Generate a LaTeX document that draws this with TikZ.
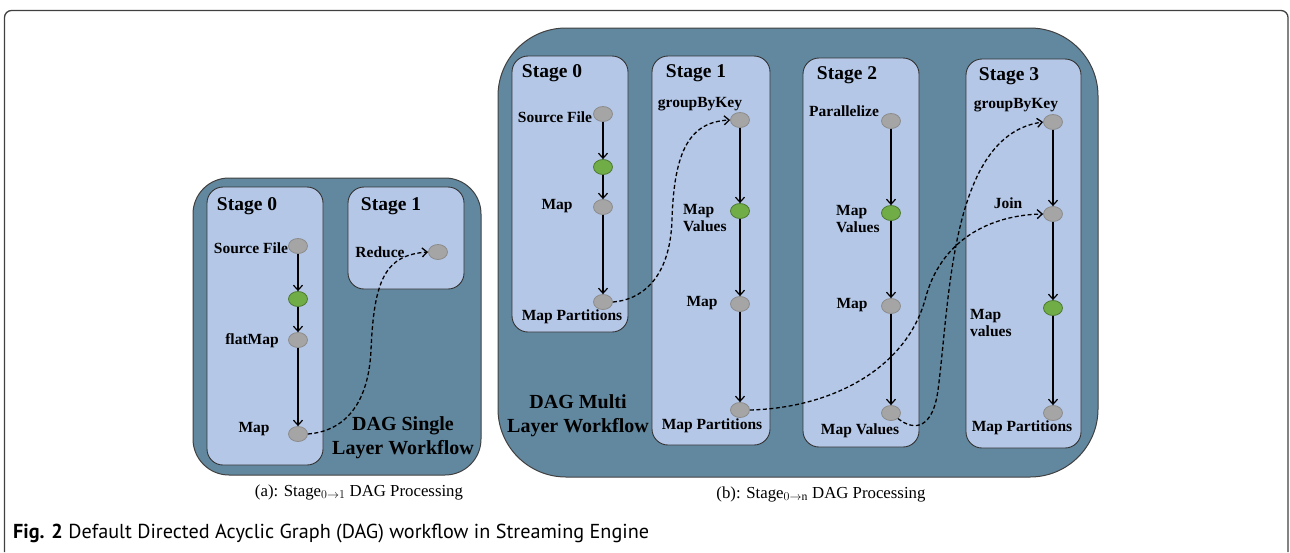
\documentclass[tikz,border=0pt]{standalone}
\usepackage{fontspec}
\setmainfont{Liberation Serif}
\newfontfamily\capfont{PT Sans}
\usetikzlibrary{shapes.geometric,arrows.meta}

\definecolor{dagbg}{RGB}{98,136,160}
\definecolor{stagebg}{RGB}{180,199,231}
\definecolor{opgray}{RGB}{165,165,165}
\definecolor{opgreen}{RGB}{112,173,71}

\begin{document}
\begin{tikzpicture}[x=1pt,y=-1pt,
  dagbox/.style={draw=black!75, line width=1pt, fill=dagbg},
  stagebox/.style={draw=black!80, line width=0.9pt, fill=stagebg, rounded corners=16pt},
  op/.style={ellipse, draw=black!45, line width=0.8pt, fill=opgray, minimum width=19pt, minimum height=15pt, inner sep=0pt},
  opg/.style={op, fill=opgreen, draw=opgreen!70!black},
  lbl/.style={font=\fontsize{15.5}{17}\selectfont\bfseries, inner sep=0pt},
  lbl2/.style={lbl, align=left, anchor=west},
  ttl/.style={font=\fontsize{19.5}{22}\selectfont\bfseries, inner sep=0pt},
  wf/.style={font=\fontsize{20}{24}\selectfont\bfseries, align=center, inner sep=0pt},
  sub/.style={font=\fontsize{16.8}{19}\selectfont, inner sep=0pt},
  flow/.style={line width=1.2pt, -{Straight Barb[length=5pt,width=9pt]}},
  shuffle/.style={line width=1.3pt, dash pattern=on 4pt off 2.5pt, -{Straight Barb[length=5pt,width=9pt]}},
]
\useasboundingbox (0,0) rectangle (1290,552);

% figure frame
\draw[black!75, line width=1.3pt, rounded corners=7pt] (4.5,552) -- (4.5,10.5) -- (1288,10.5) -- (1288,552);

% ---------- (a) single layer workflow ----------
\draw[dagbox, rounded corners=36pt] (193,178) rectangle (481,475);
\draw[stagebox] (207,187) rectangle (323,465);
\draw[stagebox] (348,187) rectangle (464,289);

\node[ttl] (aT0) at (247,206) {Stage 0};
\node[ttl] (aT1) at (391,206) {Stage 1};

\node[op]  (a0src) at (298,246) {};
\node[opg] (a0grn) at (298,299) {};
\node[op]  (a0fm)  at (298,340) {};
\node[op]  (a0map) at (298,434) {};
\node[op]  (a1red) at (438,252) {};

\node[lbl] (aLsrc) at (251,248) {Source File};
\node[lbl] (aLfm)  at (252,341) {flatMap};
\node[lbl] (aLmap) at (254,429) {Map};
\node[lbl] (aLred) at (380,252) {Reduce};
\node[wf]  (aWf)   at (403,438) {DAG Single\\Layer Workflow};

\draw[flow] (a0src) -- (a0grn);
\draw[flow] (a0grn) -- (a0fm);
\draw[flow] (a0fm) -- (a0map);
\draw[shuffle] (a0map.east) .. controls (335,432) and (368,415) .. (371,350)
  .. controls (374,280) and (385,255) .. (a1red.west);

\node[sub] (aCap) at (359,492) {(a): Stage$_{0\rightarrow 1}$ DAG Processing};

% ---------- (b) multi layer workflow ----------
\draw[dagbox, rounded corners=68pt] (498,28) rectangle (1098,477);
\draw[stagebox] (512,56) rectangle (628,332);
\draw[stagebox] (652,56) rectangle (770,445);
\draw[stagebox] (803,58) rectangle (919,447);
\draw[stagebox] (966,59) rectangle (1081,448);

\node[ttl] (bT0) at (552,73) {Stage 0};
\node[ttl] (bT1) at (696,73) {Stage 1};
\node[ttl] (bT2) at (847,75) {Stage 2};
\node[ttl] (bT3) at (1009,76) {Stage 3};

% stage 0
\node[op]  (b0src) at (603,114) {};
\node[opg] (b0grn) at (603,167) {};
\node[op]  (b0map) at (603,207) {};
\node[op]  (b0mp)  at (603,302) {};
\node[lbl] (bL0src) at (555,117) {Source File};
\node[lbl] (bL0map) at (557,206) {Map};
\node[lbl] (bL0mp)  at (572,317) {Map Partitions};

% stage 1
\node[op]  (b1gbk) at (740,120) {};
\node[opg] (b1mv)  at (740,211) {};
\node[op]  (b1map) at (740,304) {};
\node[op]  (b1mp)  at (740,410) {};
\node[lbl]  (bL1gbk) at (700,104) {groupByKey};
\node[lbl2] (bL1mv)  at (683,218) {Map\\Values};
\node[lbl]  (bL1map) at (702,303) {Map};
\node[lbl]  (bL1mp)  at (712,426) {Map Partitions};

% stage 2
\node[op]  (b2par) at (891,121) {};
\node[opg] (b2mv)  at (891,213) {};
\node[op]  (b2map) at (891,306) {};
\node[op]  (b2mvo) at (891,413) {};
\node[lbl]  (bL2par) at (844,111) {Parallelize};
\node[lbl2] (bL2mv)  at (836,219) {Map\\Values};
\node[lbl]  (bL2map) at (852,305) {Map};
\node[lbl]  (bL2mvo) at (860,431) {Map Values};

% stage 3
\node[op]  (b3gbk)  at (1053,122) {};
\node[op]  (b3join) at (1053,214) {};
\node[opg] (b3mv)   at (1053,308) {};
\node[op]  (b3mp)   at (1053,413) {};
\node[lbl]  (bL3gbk)  at (1016,105) {groupByKey};
\node[lbl]  (bL3join) at (1008,203) {Join};
\node[lbl2] (bL3mv)   at (970,323) {Map\\values};
\node[lbl]  (bL3mp)   at (1022,428) {Map Partitions};

\node[wf] (bWf) at (578,416) {DAG Multi\\Layer Workflow};

% operator chains inside each stage
\draw[flow] (b0src) -- (b0grn);
\draw[flow] (b0grn) -- (b0map);
\draw[flow] (b0map) -- (b0mp);
\draw[flow] (b1gbk) -- (b1mv);
\draw[flow] (b1mv) -- (b1map);
\draw[flow] (b1map) -- (b1mp);
\draw[flow] (b2par) -- (b2mv);
\draw[flow] (b2mv) -- (b2map);
\draw[flow] (b2map) -- (b2mvo);
\draw[flow] (b3gbk) -- (b3join);
\draw[flow] (b3join) -- (b3mv);
\draw[flow] (b3mv) -- (b3mp);

% shuffles between stages
\draw[shuffle] (b0mp.east) .. controls (640,300) and (670,280) .. (672,220)
  .. controls (674,150) and (690,122) .. (b1gbk.west);
\draw[shuffle] (b1mp.east) .. controls (830,408) and (905,370) .. (925,300)
  .. controls (940,240) and (990,215) .. (b3join.west);
\draw[shuffle] (b2mvo.south east) .. controls (915,432) and (933,428) .. (938,390)
  .. controls (950,300) and (950,135) .. (b3gbk.west);

\node[sub] (bCap) at (821,494) {(b): Stage$_{0\rightarrow \mathrm{n}}$ DAG Processing};

% figure caption
\node[anchor=west, inner sep=0pt, font=\capfont\fontsize{20.2}{24}\selectfont] (figCap) at (13,534)
  {\textbf{Fig. 2} Default Directed Acyclic Graph (DAG) workflow in Streaming Engine};
\end{tikzpicture}
\end{document}
